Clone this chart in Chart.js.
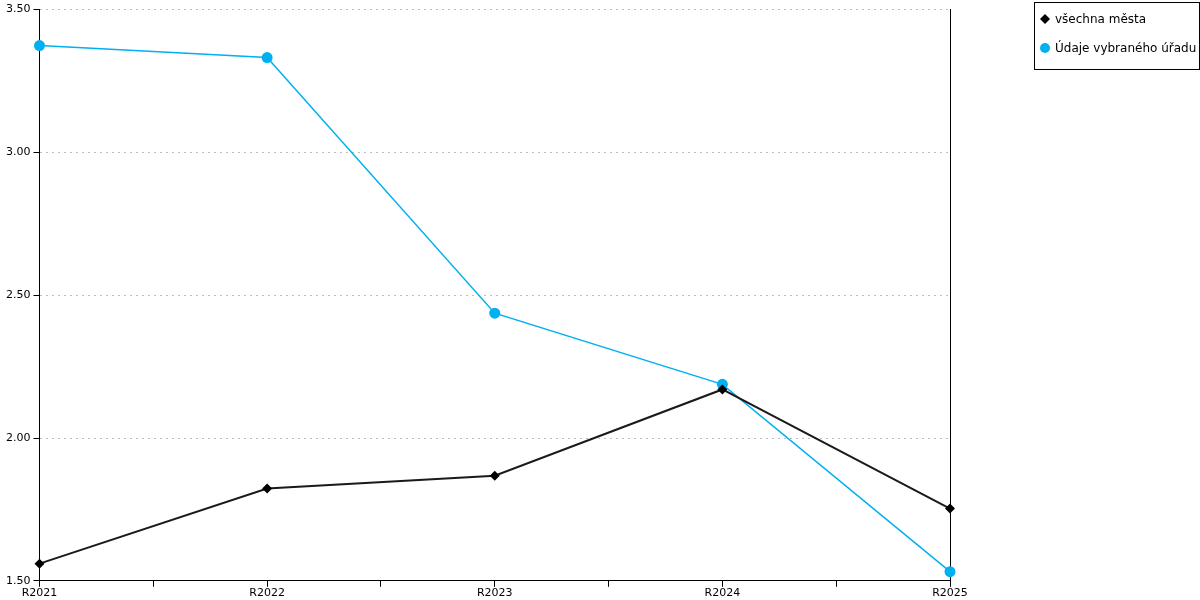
<!DOCTYPE html>
<html>
<head>
<meta charset="utf-8">
<script src="https://cdn.jsdelivr.net/npm/chart.js@4/dist/chart.umd.min.js"></script>
<style>
    html, body { margin: 0; padding: 0; background: #fff; }
    #wrap { position: relative; width: 1200px; height: 600px; }
    #legend {
        position: absolute; left: 1034px; top: 2px; width: 164px; height: 66px;
        border: 1px solid #000; background: #fff;
        font: 12px "DejaVu Sans", sans-serif; color: #000;
    }
    .item { position: absolute; left: 4px; display: flex; align-items: center; }
    .item canvas { margin-right: 4px; }
</style>
</head>
<body>
<div id="wrap">
    <canvas id="mainChart" width="1200" height="600"></canvas>
    <div id="legend"></div>
</div>
<script>
const categories = ['R2021', 'R2022', 'R2023', 'R2024', 'R2025'];
const allCities = [1.56, 1.823, 1.868, 2.17, 1.753];
const selectedOffice = [3.374, 3.332, 2.437, 2.188, 1.532];
const yTicks = [1.5, 2.0, 2.5, 3.0, 3.5];

const seriesLabels = ['všechna města', 'Údaje vybraného úřadu'];
const seriesColors = ['#1a1a1a', '#00b0f0'];
const seriesPoints = ['rectRot', 'circle'];

document.addEventListener('DOMContentLoaded', function() {
    const ctx = document.getElementById('mainChart').getContext('2d');
    const font = { family: '"DejaVu Sans", sans-serif', size: 11 };

    const toXY = (arr) => arr.map((v, i) => ({ x: i, y: v }));

    const chart = new Chart(ctx, {
        type: 'line',
        data: {
            datasets: [{
                label: seriesLabels[0],
                data: toXY(allCities),
                borderColor: seriesColors[0],
                backgroundColor: '#000',
                borderWidth: 2,
                pointStyle: seriesPoints[0],
                pointRadius: 5,
                pointBorderWidth: 0,
                tension: 0,
                clip: false
            }, {
                label: seriesLabels[1],
                data: toXY(selectedOffice),
                borderColor: seriesColors[1],
                backgroundColor: seriesColors[1],
                borderWidth: 1.5,
                pointStyle: seriesPoints[1],
                pointRadius: 5.5,
                pointBorderWidth: 0,
                tension: 0,
                clip: false
            }]
        },
        options: {
            responsive: false,
            animation: false,
            layout: { padding: { left: 3, right: 242, top: 5, bottom: 0 } },
            plugins: { legend: { display: false }, tooltip: { enabled: false } },
            scales: {
                x: {
                    type: 'linear',
                    min: 0,
                    max: categories.length - 1,
                    afterBuildTicks: (axis) => {
                        const t = [];
                        for (let i = 0; i <= (categories.length - 1) * 2; i++) t.push({ value: i / 2 });
                        axis.ticks = t;
                    },
                    ticks: {
                        autoSkip: false,
                        maxRotation: 0,
                        padding: 0,
                        color: '#000',
                        font: font,
                        callback: (v) => Number.isInteger(v) ? categories[v] : ''
                    },
                    grid: { drawOnChartArea: false, color: '#000', tickLength: 6 },
                    border: { color: '#000', width: 1 }
                },
                y: {
                    min: 1.5,
                    max: 3.5,
                    afterBuildTicks: (axis) => { axis.ticks = yTicks.map(v => ({ value: v })); },
                    ticks: {
                        padding: 3,
                        color: '#000',
                        font: font,
                        callback: (v) => v.toFixed(2)
                    },
                    grid: {
                        color: '#bdbdbd',
                        tickColor: '#000',
                        tickLength: 6,
                        tickBorderDash: []
                    },
                    border: { color: '#000', width: 1, dash: [2, 4] }
                },
                yRight: {
                    position: 'right',
                    min: 1.5,
                    max: 3.5,
                    ticks: { display: false },
                    grid: { display: false },
                    border: { display: true, color: '#000', width: 1 }
                }
            }
        }
    });

    // legend built from the datasets
    const legend = document.getElementById('legend');
    chart.data.datasets.forEach((ds, i) => {
        const item = document.createElement('div');
        item.className = 'item';
        item.style.top = (i === 0 ? 9 : 38) + 'px';
        const c = document.createElement('canvas');
        c.width = 12; c.height = 12;
        const g = c.getContext('2d');
        g.fillStyle = ds.backgroundColor;
        if (ds.pointStyle === 'circle') {
            g.beginPath(); g.arc(6, 6, 5, 0, Math.PI * 2); g.fill();
        } else {
            g.beginPath(); g.moveTo(6, 1); g.lineTo(11, 6); g.lineTo(6, 11); g.lineTo(1, 6); g.closePath(); g.fill();
        }
        item.appendChild(c);
        const span = document.createElement('span');
        span.textContent = ds.label;
        item.appendChild(span);
        legend.appendChild(item);
    });
});
</script>
</body>
</html>
